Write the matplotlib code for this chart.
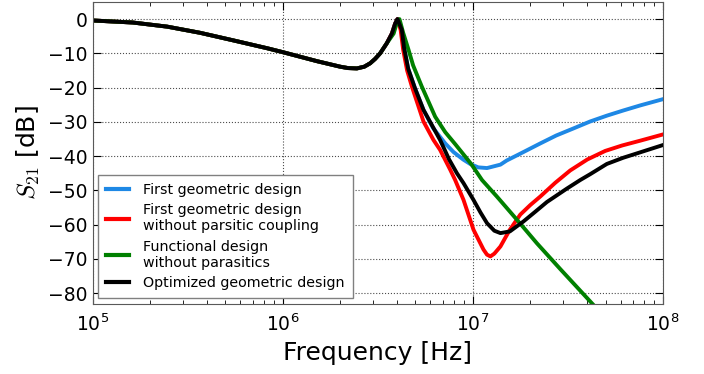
import matplotlib
matplotlib.use('Agg')
from matplotlib import pyplot as plt

# shared low-frequency part (all designs identical up to the resonance)
f_low = [1.00e5, 1.63e5, 2.47e5, 3.68e5, 5.49e5, 8.28e5, 1.01e6, 1.52e6,
         2.01e6, 2.21e6, 2.46e6, 2.69e6, 2.89e6, 3.07e6, 3.26e6, 3.53e6,
         3.76e6, 3.91e6, 4.02e6]
s_low = [-0.4, -1.0, -2.2, -4.0, -6.2, -8.5, -9.7, -12.3,
         -13.9, -14.3, -14.4, -13.9, -12.9, -11.6, -10.0, -7.1,
         -4.2, -1.3, 0.0]

# optimized geometric design (black)
f_opt = f_low + [4.24e6, 4.36e6, 4.58e6, 4.98e6, 5.51e6, 6.74e6, 7.52e6, 8.26e6,
                 8.95e6, 1.01e7, 1.10e7, 1.19e7, 1.30e7, 1.40e7, 1.57e7, 1.85e7,
                 2.13e7, 2.46e7, 3.13e7, 3.68e7, 4.15e7, 5.08e7, 6.19e7, 7.62e7,
                 1.00e8]
s_opt = s_low + [-3.2, -8.5, -14.5, -20.3, -26.5, -35.3, -41.0, -45.0,
                 -47.9, -52.8, -56.5, -59.6, -61.8, -62.5, -62.0, -59.1,
                 -56.3, -53.4, -49.5, -47.0, -45.3, -42.3, -40.5, -38.9,
                 -36.8]

# first geometric design without parasitic coupling (red)
f_nopc = f_low + [4.18e6, 4.31e6, 4.52e6, 4.79e6, 5.51e6, 6.22e6, 6.74e6, 7.62e6,
                  8.09e6, 8.95e6, 1.01e7, 1.14e7, 1.19e7, 1.24e7, 1.30e7, 1.40e7,
                  1.48e7, 1.57e7, 1.78e7, 2.01e7, 2.27e7, 2.72e7, 3.26e7, 4.01e7,
                  4.98e7, 6.12e7, 7.62e7, 1.00e8]
s_nopc = s_low + [-3.2, -9.0, -15.0, -19.7, -29.9, -35.3, -38.2, -44.0,
                  -47.0, -52.8, -61.5, -67.3, -68.8, -69.3, -68.5, -66.4,
                  -64.0, -61.5, -57.1, -54.3, -51.8, -47.8, -44.2, -41.0,
                  -38.5, -36.9, -35.5, -33.7]

# first geometric design (blue)
f_first = f_low + [4.24e6, 4.36e6, 4.58e6, 4.98e6, 5.51e6, 6.19e6, 7.17e6, 7.92e6,
                   8.91e6, 9.70e6, 1.07e7, 1.19e7, 1.40e7, 1.51e7, 1.78e7, 2.27e7,
                   2.75e7, 3.40e7, 4.15e7, 5.08e7, 6.19e7, 7.62e7, 1.00e8]
s_first = s_low + [-3.2, -8.5, -14.5, -20.3, -26.5, -31.8, -36.3, -38.8,
                   -41.0, -42.3, -43.3, -43.5, -42.5, -41.3, -39.3, -36.3,
                   -34.0, -31.9, -29.9, -28.2, -26.7, -25.2, -23.4]

# functional design without parasitics (green)
f_func = f_low[:16] + [3.84e6, 3.98e6, 4.12e6, 4.31e6, 4.60e6, 4.86e6, 5.40e6, 6.35e6,
                       7.17e6, 8.09e6, 9.82e6, 1.12e7, 1.34e7, 1.71e7, 2.18e7, 2.89e7,
                       4.24e7, 5.30e7]
s_func = s_low[:16] + [-4.2, -1.3, 0.0, -4.0, -9.0, -13.5, -19.7, -28.5,
                       -33.0, -36.5, -42.3, -47.0, -51.8, -58.6, -65.5, -73.0,
                       -83.0, -88.8]

labels = ['First geometric design',
          'First geometric design\nwithout parsitic coupling',
          'Functional design\nwithout parasitics',
          'Optimized geometric design']
colors = ['#1e88e5', 'red', 'green', 'black']

plt.rcParams['mathtext.fontset'] = 'cm'

fig = plt.figure(figsize=(7.04, 3.74), dpi=100)
ax = fig.add_axes([0.1314, 0.1872, 0.81, 0.8075])

ax.semilogx(f_first, s_first, color=colors[0], lw=2.8, label=labels[0])
ax.semilogx(f_nopc, s_nopc, color=colors[1], lw=2.8, label=labels[1])
ax.semilogx(f_func, s_func, color=colors[2], lw=2.8, label=labels[2])
ax.semilogx(f_opt, s_opt, color=colors[3], lw=2.8, label=labels[3])

ax.set_xlim(1e5, 1e8)
ax.set_ylim(-83.2, 5)
ax.set_yticks(range(-80, 1, 10))
ax.grid(True, which='major', color='black', linestyle=':', linewidth=0.8, alpha=0.7)
ax.tick_params(which='both', direction='in', top=True, right=True, labelsize=13.5)
ax.tick_params(which='major', length=6)
ax.tick_params(which='minor', length=3)
ax.tick_params(axis='x', pad=7)
for sp in ax.spines.values():
    sp.set_color('0.35')

ax.set_xlabel('Frequency [Hz]', fontsize=18)
ax.set_ylabel('$S_{21}$ [dB]', fontsize=18)

leg = ax.legend(loc='lower left', fontsize=10.3, fancybox=False, framealpha=1,
                edgecolor='0.5', handlelength=1.6, handletextpad=1.0,
                borderpad=0.55, borderaxespad=0.4, labelspacing=0.45)
for l in leg.get_lines():
    l.set_linewidth(3)

fig.savefig('out.png', dpi=100)
